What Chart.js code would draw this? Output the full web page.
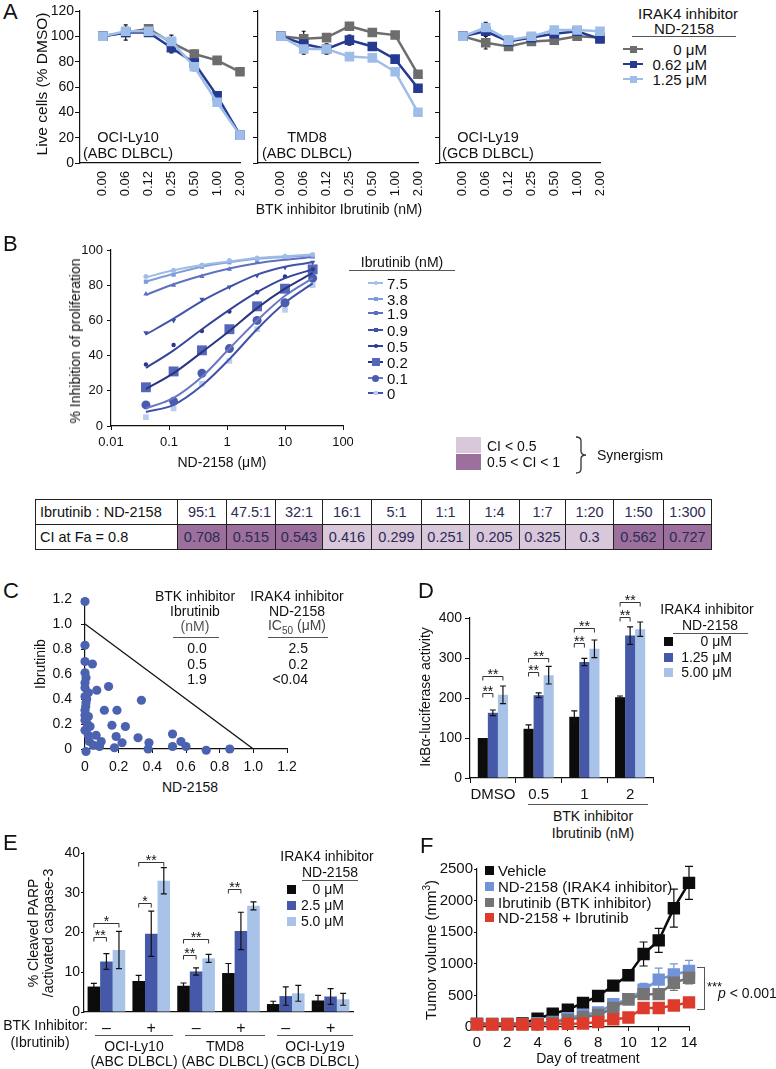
<!DOCTYPE html>
<html>
<head>
<meta charset="utf-8">
<script src="https://cdn.jsdelivr.net/npm/chart.js@4.4.1/dist/chart.umd.min.js"></script>
<style>
body { margin: 0; background: #fff; }
#page { position: relative; width: 776px; height: 1069px; overflow: hidden; font-family: "Liberation Sans", Arial, sans-serif; color: #111; }
.t { position: absolute; white-space: nowrap; line-height: 1; }
.hl { position: absolute; height: 0; border-top: 1.3px solid #555; }
.sq { position: absolute; }
table.ci { position: absolute; left: 35px; top: 499px; border-collapse: collapse; font-size: 14.5px; table-layout: fixed; }
table.ci td { border: 1.2px solid #222; height: 24px; padding: 0; text-align: center; color: #2b2b55; }
table.ci td.head { text-align: left; padding-left: 4px; color: #111; }
</style>
</head>
<body>
<div id="page"></div>
<script>
// ---- panel A: live cells (% DMSO)
var aDoses = ['0.00', '0.06', '0.12', '0.25', '0.50', '1.00', '2.00'];
var ly10Nd0 = [100, 103, 106, 95, 86, 81, 72];
var ly10Nd062 = [100, 103, 103, 91, 79, 53, 22];
var ly10Nd125 = [100, 104, 104, 96, 76, 48, 22];
var ly10Err0 = [0, 6, 2, 6, 3, 2, 1];
var ly10Err062 = [0, 3, 2, 4, 3, 2, 1];
var ly10Err125 = [0, 3, 2, 3, 3, 2, 1];
var tmd8Nd0 = [100, 98, 99, 108, 103, 101, 70];
var tmd8Nd062 = [100, 94, 90, 97, 92, 82, 59];
var tmd8Nd125 = [100, 90, 90, 84, 83, 72, 40];
var tmd8Err0 = [0, 6, 2, 2, 3, 2, 2];
var tmd8Err062 = [0, 3, 4, 4, 2, 2, 2];
var tmd8Err125 = [0, 4, 2, 3, 2, 2, 2];
var ly19Nd0 = [100, 95, 92, 96, 97, 100, 99];
var ly19Nd062 = [100, 104, 96, 99, 102, 104, 98];
var ly19Nd125 = [100, 107, 97, 100, 105, 105, 104];
var ly19Err0 = [0, 5, 2, 2, 3, 2, 2];
var ly19Err062 = [0, 3, 4, 2, 2, 2, 2];
var ly19Err125 = [0, 4, 2, 2, 2, 2, 2];
var aLegend = ['0 &mu;M', '0.62 &mu;M', '1.25 &mu;M'];

// ---- panel B: inhibition of proliferation
var bConc = [0.04, 0.12, 0.37, 1.1, 3.3, 10, 30];
var bTicks = [0.01, 0.1, 1, 10, 100];
var bLevels = ['7.5', '3.8', '1.9', '0.9', '0.5', '0.2', '0.1', '0'];
var bPts75 = [85, 88.5, 91.5, 94, 95.5, 96.5, 97.5];
var bPts38 = [82, 86, 90.5, 93, 94.5, 96, 97];
var bPts19 = [75, 80, 85, 89, 93, 95, 96];
var bPts09 = [53, 60, 72, 79, 85.5, 90, 93];
var bPts05 = [35, 46, 54, 65, 76, 85, 89];
var bPts02 = [22, 31, 43, 55, 68, 78, 89];
var bPts01 = [12, 14, 30, 44, 60, 70, 84];
var bPts00 = [5, 10, 24, 37, 55, 66, 80];
var bFit75 = [84.5, 88.5, 91.5, 93.5, 95.5, 96.5, 97.5];
var bFit38 = [82, 86.5, 90.5, 93, 95, 96, 97];
var bFit19 = [74.5, 80.5, 85.5, 89.5, 92.5, 94.5, 96];
var bFit09 = [52, 61, 71, 79, 86, 90.5, 93];
var bFit05 = [33, 43, 55, 66, 76, 84, 89];
var bFit02 = [21, 30, 42, 54, 67, 78, 87];
var bFit01 = [10, 16, 28, 44, 60, 74, 84];
var bFit00 = [8, 12, 23, 38, 55, 70, 81];

// ---- CI table
var ciRatios = ['95:1', '47.5:1', '32:1', '16:1', '5:1', '1:1', '1:4', '1:7', '1:20', '1:50', '1:300'];
var ciValues = ['0.708', '0.515', '0.543', '0.416', '0.299', '0.251', '0.205', '0.325', '0.3', '0.562', '0.727'];

// ---- panel C: isobologram
var cX = [0, 0, 0, 0.044, 0, 0.006, 0, 0, 0.02, 0.07, 0.14, 0, 0.006, 0.335, 0.115, 0.19, 0, 0.02, 0, 0.03,
          0.16, 0.24, 0, 0.02, 0.066, 0.185, 0.315, 0.096, 0.026, 0.05, 0.086, 0.175, 0.22, 0.38, 0.375, 0.52,
          0.52, 0.57, 0.6, 0.72, 0.86, 0.006, 0.014, 0, 0.01, 0.004];
var cY = [1.18, 0.83, 0.70, 0.68, 0.61, 0.57, 0.53, 0.49, 0.45, 0.47, 0.50, 0.42, 0.37, 0.39, 0.31, 0.31, 0.27, 0.26, 0.23, 0.18,
          0.19, 0.18, 0.15, 0.11, 0.11, 0.10, 0.09, 0.06, 0.06, 0.03, 0.02, 0.01, 0.05, 0.05, 0.0, 0.12,
          0.02, 0.06, 0.02, -0.01, 0.0, -0.02, 0.20, 0.31, 0.40, 0.34];
var cLineX = [0, 1];
var cLineY = [1, 0];

// ---- panel D: IkBa-luciferase
var dGroups = ['DMSO', '0.5', '1', '2'];
var dNd0 = [100, 123, 153, 202];
var dNd125 = [163, 207, 290, 356];
var dNd500 = [208, 257, 323, 372];
var dErr0 = [0, 10, 15, 3];
var dErr125 = [7, 6, 9, 22];
var dErr500 = [22, 22, 22, 18];
var dLegend = ['0 &mu;M', '1.25 &mu;M', '5.00 &mu;M'];

// ---- panel E: cleaved PARP
var eGroups = ['\u2013', '+', '\u2013', '+', '\u2013', '+'];
var eNd0 = [6.4, 7.8, 6.6, 9.8, 2.0, 2.9];
var eNd25 = [12.7, 19.7, 10.2, 20.4, 4.0, 3.9];
var eNd50 = [15.6, 33.0, 13.5, 26.7, 4.7, 3.2];
var eErr0 = [0.8, 1.4, 0.7, 2.4, 0.7, 1.3];
var eErr25 = [2.0, 5.7, 0.9, 4.7, 2.3, 2.0];
var eErr50 = [4.7, 3.3, 1.0, 1.0, 2.0, 1.5];
var eLegend = ['0 &mu;M', '2.5 &mu;M', '5.0 &mu;M'];

// ---- panel F: tumor volume
var fDays = [0, 1, 2, 3, 4, 5, 6, 7, 8, 9, 10, 11, 12, 13, 14];
var fVehicle = [50, 50, 50, 55, 130, 210, 275, 380, 490, 655, 820, 1155, 1370, 1880, 2280];
var fNd2158 = [50, 45, 45, 45, 60, 80, 140, 195, 230, 360, 440, 590, 750, 830, 885];
var fIbrutinib = [50, 45, 45, 45, 50, 70, 110, 160, 190, 300, 440, 520, 520, 700, 780];
var fCombo = [40, 40, 40, 40, 40, 45, 50, 55, 80, 120, 150, 300, 300, 340, 390];
var fErrVehicle = [15, 15, 15, 15, 20, 30, 30, 40, 40, 50, 70, 190, 190, 300, 260];
var fErrNd2158 = [10, 10, 10, 10, 10, 20, 20, 30, 40, 60, 80, 100, 180, 170, 170];
var fErrIbrutinib = [10, 10, 10, 10, 10, 20, 20, 30, 30, 60, 70, 70, 60, 120, 100];
var fErrCombo = [10, 10, 10, 10, 10, 10, 15, 20, 20, 30, 30, 40, 40, 40, 40];
var fLegend = ['Vehicle', 'ND-2158 (IRAK4 inhibitor)', 'Ibrutinib (BTK inhibitor)', 'ND-2158 + Ibrutinib'];

var FONT = '"Liberation Sans", Arial, sans-serif';
var page = document.getElementById('page');

Chart.defaults.font.family = FONT;
Chart.defaults.color = '#111';
Chart.defaults.events = [];
Chart.defaults.plugins.legend.display = false;
Chart.defaults.plugins.tooltip.enabled = false;

// error bars, read from dataset.errors
function drawErrors(chart) {
    var ctx = chart.ctx, ys = chart.scales.y;
    chart.data.datasets.forEach(function(ds, di) {
        if (!ds.errors) return;
        var meta = chart.getDatasetMeta(di);
        ctx.save();
        ctx.strokeStyle = ds.errorColor || '#111';
        ctx.lineWidth = 1.2;
        meta.data.forEach(function(el, i) {
            var e = ds.errors[i];
            if (!e) return;
            var v = typeof ds.data[i] === 'object' ? ds.data[i].y : ds.data[i];
            var top = ys.getPixelForValue(v + e), bot = ys.getPixelForValue(v - e);
            var cap = ds.errorCap || 3;
            ctx.beginPath();
            ctx.moveTo(el.x, top); ctx.lineTo(el.x, bot);
            ctx.moveTo(el.x - cap, top); ctx.lineTo(el.x + cap, top);
            ctx.moveTo(el.x - cap, bot); ctx.lineTo(el.x + cap, bot);
            ctx.stroke();
        });
        ctx.restore();
    });
}

Chart.register({
    id: 'errorBars',
    beforeDatasetsDraw: function(chart, args, opts) { if (!opts.after) drawErrors(chart); },
    afterDatasetsDraw: function(chart, args, opts) { if (opts.after) drawErrors(chart); }
});

// significance brackets between bars of one category
function bracketPlugin(items) {
    return {
        id: 'brackets',
        afterDatasetsDraw: function(chart) {
            var ctx = chart.ctx, ys = chart.scales.y;
            ctx.save();
            ctx.strokeStyle = '#333';
            ctx.fillStyle = '#111';
            ctx.lineWidth = 1;
            ctx.font = '14px ' + FONT;
            ctx.textAlign = 'center';
            ctx.textBaseline = 'alphabetic';
            items.forEach(function(b) {
                var x0 = chart.getDatasetMeta(b[1]).data[b[0]].x;
                var x1 = chart.getDatasetMeta(b[2]).data[b[0]].x;
                var y = Math.round(ys.getPixelForValue(b[3])) + 0.5;
                ctx.beginPath();
                ctx.moveTo(x0, y + 4); ctx.lineTo(x0, y); ctx.lineTo(x1, y); ctx.lineTo(x1, y + 4);
                ctx.stroke();
                ctx.fillText(b[4], (x0 + x1) / 2, y + 2);
            });
            ctx.restore();
        }
    };
}

// place a chart so that its chart area is exactly area = [l, t, r, b]
function makeChart(area, m, config) {
    var w = area[2] - area[0] + m[0] + m[2];
    var h = area[3] - area[1] + m[1] + m[3];
    var div = document.createElement('div');
    div.style.position = 'absolute';
    div.style.left = (area[0] - m[0]) + 'px';
    div.style.top = (area[1] - m[1]) + 'px';
    var c = document.createElement('canvas');
    c.width = w; c.height = h;
    c.style.width = w + 'px'; c.style.height = h + 'px';
    div.appendChild(c);
    page.appendChild(div);
    var o = config.options;
    o.responsive = false;
    o.animation = false;
    o.devicePixelRatio = 1;
    o.layout = {padding: {left: 0, top: m[1], right: m[2], bottom: 0}};
    o.scales.x.afterFit = function(s) { s.height = m[3]; s.paddingLeft = 0; s.paddingRight = 0; };
    o.scales.y.afterFit = function(s) { s.width = m[0]; s.paddingTop = 0; s.paddingBottom = 0; };
    return new Chart(c, config);
}

function axis(tickLen, pad, size, extra) {
    var a = {
        grid: {drawOnChartArea: false, drawTicks: tickLen > 0, tickLength: tickLen, color: '#111', lineWidth: 1},
        border: {display: true, color: '#111', width: 1.2},
        ticks: {color: '#111', font: {size: size}, padding: pad, maxRotation: 0, autoSkip: false}
    };
    for (var k in extra) {
        if (k === 'ticks') { for (var j in extra.ticks) a.ticks[j] = extra.ticks[j]; }
        else a[k] = extra[k];
    }
    return a;
}

function plain(v) { return String(v); }

function txt(s, x, y, opt) {
    opt = opt || {};
    var d = document.createElement('div');
    d.className = 't';
    d.innerHTML = s;
    d.style.fontSize = (opt.size || 14) + 'px';
    if (opt.color) d.style.color = opt.color;
    if (opt.lh) { d.style.lineHeight = opt.lh; d.style.textAlign = 'center'; }
    d.style.left = x + 'px';
    d.style.top = y + 'px';
    var tx = opt.align === 'left' ? '0' : (opt.align === 'right' ? '-100%' : '-50%');
    d.style.transform = opt.rot ? 'translate(-50%,-50%) rotate(-90deg)' : 'translate(' + tx + ',-50%)';
    page.appendChild(d);
    return d;
}

function hline(x0, x1, y) {
    var d = document.createElement('div');
    d.className = 'hl';
    d.style.left = x0 + 'px'; d.style.top = y + 'px'; d.style.width = (x1 - x0) + 'px';
    page.appendChild(d);
}

function square(x, y, s, color, round, h) {
    var d = document.createElement('div');
    d.className = 'sq';
    h = h || s;
    d.style.left = (x - s / 2) + 'px'; d.style.top = (y - h / 2) + 'px';
    d.style.width = s + 'px'; d.style.height = h + 'px';
    d.style.background = color;
    if (round) d.style.borderRadius = '50%';
    page.appendChild(d);
    return d;
}

function legendLine(x0, x1, y, color, lw, dashed) {
    var d = document.createElement('div');
    d.style.position = 'absolute';
    d.style.left = x0 + 'px'; d.style.top = (y - lw / 2) + 'px';
    d.style.width = (x1 - x0) + 'px'; d.style.height = '0';
    d.style.borderTop = lw + 'px ' + (dashed ? 'dashed ' : 'solid ') + color;
    page.appendChild(d);
}

// ================= A =================
var aGray = '#6d6d6d', aDark = '#253a91', aLight = '#9ebde8';

function aSeries(vals, errs, color) {
    return {
        data: vals.map(function(v, i) { return {x: i, y: v}; }),
        errors: errs, errorCap: 2,
        showLine: true, borderColor: color, backgroundColor: color, borderWidth: 2.5,
        pointStyle: 'rect', pointRadius: 5, clip: false
    };
}

function panelA(area, s0, s1, s2, e0, e1, e2, showLabels) {
    makeChart(area, [showLabels ? 45 : 10, 10, 10, 45], {
        type: 'scatter',
        data: {datasets: [aSeries(s2, e2, aLight), aSeries(s1, e1, aDark), aSeries(s0, e0, aGray)]},
        options: {
            scales: {
                x: axis(0, 8, 13, {min: -1, max: 6, ticks: {stepSize: 1, minRotation: 90, maxRotation: 90,
                    callback: function(v) { return v >= 0 ? aDoses[v] : ''; }}}),
                y: axis(5, 1, 14, {min: 0, max: 120, ticks: {stepSize: 20, display: showLabels}})
            }
        }
    });
}

panelA([80, 11, 240, 163], ly10Nd0, ly10Nd062, ly10Nd125, ly10Err0, ly10Err062, ly10Err125, true);
panelA([258, 11, 418, 163], tmd8Nd0, tmd8Nd062, tmd8Nd125, tmd8Err0, tmd8Err062, tmd8Err125, false);
panelA([440, 11, 600, 163], ly19Nd0, ly19Nd062, ly19Nd125, ly19Err0, ly19Err062, ly19Err125, false);

txt('A', 3, 12, {size: 22, align: 'left'});
txt('Live cells (% DMSO)', 42, 84, {size: 15.5, rot: true});
txt('BTK inhibitor Ibrutinib (nM)', 339, 209, {size: 14});
txt('OCI-Ly10', 128, 137, {size: 14.5});
txt('(ABC DLBCL)', 128, 153, {size: 14.5});
txt('TMD8', 307, 137, {size: 14.5});
txt('(ABC DLBCL)', 307, 153, {size: 14.5});
txt('OCI-Ly19', 488, 137, {size: 14.5});
txt('(GCB DLBCL)', 488, 153, {size: 14.5});
txt('IRAK4 inhibitor', 688, 13, {size: 15});
txt('ND-2158', 684, 28, {size: 15});
hline(632, 736, 36);
[aGray, aDark, aLight].forEach(function(c, i) {
    var y = [49, 64, 79][i];
    legendLine(623, 643, y, c, 2.5);
    square(633, y, 7, c);
    txt(aLegend[i], 707, y, {size: 15, align: 'right'});
});

// ================= B =================
var bColors = ['#a3c0ea', '#7d9cdc', '#5c70c2', '#3e50a8', '#28378a', '#5567b8', '#4a5bb0', '#b9cdee'];
var bFitColors = ['#9fbce8', '#7f9cdb', '#5f70c0', '#4153a9', '#34449a', '#27367f', '#6a77c2', '#3f51a8'];
var bStyles = ['circle', 'rect', 'triangle', 'triangle', 'circle', 'rect', 'circle', 'rect'];
var bRadius = [2.5, 3, 3, 3, 2.2, 7, 4.5, 4];
var bPoints = [bPts75, bPts38, bPts19, bPts09, bPts05, bPts02, bPts01, bPts00];
var bFits = [bFit75, bFit38, bFit19, bFit09, bFit05, bFit02, bFit01, bFit00];

var bDatasets = [];
bLevels.forEach(function(lv, k) {
    bDatasets.push({
        data: bConc.map(function(c, i) { return {x: c, y: bFits[k][i]}; }),
        showLine: true, pointRadius: 0, borderColor: bFitColors[k], borderWidth: 2,
        cubicInterpolationMode: 'monotone', clip: false
    });
    bDatasets.push({
        data: bConc.map(function(c, i) { return {x: c, y: bPoints[k][i]}; }),
        showLine: false, pointStyle: bStyles[k], rotation: k === 3 ? 180 : 0, pointRadius: bRadius[k],
        backgroundColor: bColors[k], borderColor: bColors[k], borderWidth: 0, clip: false
    });
});

makeChart([111, 250, 343, 426], [40, 10, 10, 30], {
    type: 'scatter',
    data: {datasets: bDatasets},
    options: {
        scales: {
            x: axis(4, 5, 13, {type: 'logarithmic', min: 0.01, max: 100,
                afterBuildTicks: function(s) { s.ticks = bTicks.map(function(v) { return {value: v}; }); },
                ticks: {callback: plain}}),
            y: axis(4, 4, 13, {min: 0, max: 100, ticks: {stepSize: 20}})
        }
    }
});

txt('B', 3, 244, {size: 22, align: 'left'});
txt('% Inhibition of proliferation', 75, 341, {size: 14, rot: true});
txt('ND-2158 (&mu;M)', 222, 462, {size: 14});
txt('Ibrutinib (nM)', 402, 262, {size: 14});
hline(349, 455, 270);
bLevels.forEach(function(lv, k) {
    var y = [283, 299, 313, 330, 346, 362, 378, 393][k];
    legendLine(368, 383, y, bFitColors[k], 2, k === 7);
    square(375.5, y, k === 5 ? 8 : (k === 6 ? 7 : 4), bColors[k], bStyles[k] === 'circle');
    txt(lv, 387, y, {size: 15, align: 'left'});
});

// CI legend
square(468.5, 445, 25, '#d9c7da', false, 16);
square(468.5, 462, 25, '#9c6f9c', false, 16);
txt('CI &lt; 0.5', 487, 446, {size: 14, align: 'left'});
txt('0.5 &lt; CI &lt; 1', 487, 462, {size: 14, align: 'left'});
var brace = document.createElement('div');
brace.style.position = 'absolute';
brace.style.left = '574px'; brace.style.top = '436px';
brace.innerHTML = '<svg width="16" height="38"><path d="M2 1 Q7 1 7 5 L7 15 Q7 19 12 19 Q7 19 7 23 L7 33 Q7 37 2 37" fill="none" stroke="#333" stroke-width="1.3"/></svg>';
page.appendChild(brace);
txt('Synergism', 597, 455, {size: 14, align: 'left'});

// CI table
var tbl = document.createElement('table');
tbl.className = 'ci';
var colW = [141, 48, 48, 46, 48, 49, 47, 49, 45, 47, 49, 47];
var r1 = '<tr><td class="head" style="width:' + (colW[0] - 4) + 'px">Ibrutinib : ND-2158</td>';
var r2 = '<tr><td class="head">CI at Fa = 0.8</td>';
ciRatios.forEach(function(r, i) {
    r1 += '<td style="width:' + colW[i + 1] + 'px">' + r + '</td>';
    var bg = parseFloat(ciValues[i]) < 0.5 ? '#d9c7da' : '#9c6f9c';
    r2 += '<td style="background:' + bg + '">' + ciValues[i] + '</td>';
});
tbl.innerHTML = r1 + '</tr>' + r2 + '</tr>';
page.appendChild(tbl);

// ================= C =================
function oneDec(v) { return v === 0 ? '0' : v.toFixed(1); }

makeChart([85, 599, 287, 749], [40, 10, 10, 30], {
    type: 'scatter',
    data: {datasets: [
        {data: cLineX.map(function(x, i) { return {x: x, y: cLineY[i]}; }), showLine: true, pointRadius: 0,
         borderColor: '#111', borderWidth: 1.3},
        {data: cX.map(function(x, i) { return {x: x, y: cY[i]}; }), pointRadius: 4.6,
         backgroundColor: '#4b62b0', borderWidth: 0, clip: false}
    ]},
    options: {
        scales: {
            x: axis(4, 6, 14, {min: 0, max: 1.2, ticks: {stepSize: 0.2, callback: oneDec}}),
            y: axis(4, 9, 14, {min: 0, max: 1.2, ticks: {stepSize: 0.2, callback: oneDec}})
        }
    }
});

txt('C', 3, 591, {size: 22, align: 'left'});
txt('Ibrutinib', 40, 664, {size: 14, rot: true});
txt('ND-2158', 190, 787, {size: 14});
txt('BTK inhibitor', 195, 596, {size: 14});
txt('Ibrutinib', 195, 611, {size: 14});
txt('(nM)', 195, 626, {size: 14, color: '#555'});
hline(173, 219, 637);
txt('0.0', 197, 648, {size: 14});
txt('0.5', 197, 664, {size: 14});
txt('1.9', 197, 679, {size: 14});
txt('IRAK4 inhibitor', 297, 596, {size: 14});
txt('ND-2158', 297, 611, {size: 14});
txt('IC<sub style="font-size:10px">50</sub> (&mu;M)', 297, 627, {size: 14, color: '#444'});
hline(268, 328, 637);
txt('2.5', 308, 648, {size: 14, align: 'right'});
txt('0.2', 308, 664, {size: 14, align: 'right'});
txt('&lt;0.04', 308, 679, {size: 14, align: 'right'});

// ================= D =================
var cBlack = '#0c0c0c', cBlue = '#4659a8', cLight = '#a8c2e8';

function barDs(vals, errs, color, pct) {
    return {data: vals, errors: errs, errorCap: 3, backgroundColor: color, borderWidth: 0,
            categoryPercentage: pct, barPercentage: 1.0};
}

makeChart([470, 618, 653, 778], [45, 40, 10, 25], {
    type: 'bar',
    data: {labels: dGroups, datasets: [barDs(dNd0, dErr0, cBlack, 0.66), barDs(dNd125, dErr125, cBlue, 0.66),
                                       barDs(dNd500, dErr500, cLight, 0.66)]},
    options: {
        plugins: {errorBars: {after: true}},
        scales: {
            x: axis(5, 3, 15, {}),
            y: axis(5, 3, 14, {min: 0, max: 400, ticks: {stepSize: 100}})
        }
    },
    plugins: [bracketPlugin([
        [0, 0, 1, 212, '**'], [0, 0, 2, 255, '**'],
        [1, 0, 1, 265, '**'], [1, 0, 2, 300, '**'],
        [2, 0, 1, 337, '**'], [2, 0, 2, 375, '**'],
        [3, 0, 1, 402, '**'], [3, 0, 2, 440, '**']
    ])]
});

txt('D', 418, 591, {size: 22, align: 'left'});
txt('I&kappa;B&alpha;-luciferase activity', 425, 697, {size: 14, rot: true});
hline(528, 648, 804);
txt('BTK inhibitor', 593, 816, {size: 14});
txt('Ibrutinib (nM)', 593, 833, {size: 14});
txt('IRAK4 inhibitor', 707, 609, {size: 14});
txt('ND-2158', 710, 625, {size: 14});
hline(673, 748, 633);
[cBlack, cBlue, cLight].forEach(function(c, i) {
    var y = [641, 657, 672][i];
    square(668, y, 9, c);
    txt(dLegend[i], 732, y, {size: 14, align: 'right'});
});

// ================= E =================
makeChart([84, 853, 353, 1012], [35, 15, 5, 25], {
    type: 'bar',
    data: {labels: eGroups, datasets: [barDs(eNd0, eErr0, cBlack, 0.84), barDs(eNd25, eErr25, cBlue, 0.84),
                                       barDs(eNd50, eErr50, cLight, 0.84)]},
    options: {
        plugins: {errorBars: {after: true}},
        scales: {
            x: axis(0, 7, 16, {}),
            y: axis(3, 1, 14, {min: 0, max: 40, ticks: {stepSize: 10}})
        }
    },
    plugins: [bracketPlugin([
        [0, 0, 1, 18.9, '**'], [0, 0, 2, 22.4, '*'],
        [1, 0, 1, 27.4, '*'], [1, 0, 2, 37.7, '**'],
        [2, 0, 1, 14.3, '**'], [2, 0, 2, 18.4, '**'],
        [3, 0, 1, 31, '**']
    ])]
});

txt('E', 3, 843, {size: 22, align: 'left'});
txt('% Cleaved PARP<br>/activated caspase-3', 41, 933, {size: 14, rot: true, lh: '1.05'});
txt('IRAK4 inhibitor', 327, 856, {size: 14});
txt('ND-2158', 330, 872, {size: 14});
hline(302, 358, 880);
[cBlack, cBlue, cLight].forEach(function(c, i) {
    var y = [889, 905, 921][i];
    square(291, y, 9, c);
    txt(eLegend[i], 344, y, {size: 14, align: 'right'});
});
txt('BTK Inhibitor:', 88, 1025, {size: 14, align: 'right'});
txt('(Ibrutinib)', 40, 1042, {size: 14});
hline(95, 173, 1035);
hline(185, 265, 1035);
hline(277, 353, 1035);
txt('OCI-Ly10', 134, 1046, {size: 14});
txt('(ABC DLBCL)', 134, 1061, {size: 14});
txt('TMD8', 225, 1046, {size: 14});
txt('(ABC DLBCL)', 225, 1061, {size: 14});
txt('OCI-Ly19', 315, 1046, {size: 14});
txt('(GCB DLBCL)', 315, 1061, {size: 14});

// ================= F =================
var fColors = ['#0c0c0c', '#7393d8', '#747474', '#dd3b2c'];
var fSets = [fVehicle, fNd2158, fIbrutinib, fCombo];
var fErrs = [fErrVehicle, fErrNd2158, fErrIbrutinib, fErrCombo];
var fOrder = [3, 2, 1, 0];

makeChart([477, 869, 689, 1027], [50, 10, 10, 25], {
    type: 'scatter',
    data: {datasets: fSets.map(function(vals, k) {
        return {
            data: fDays.map(function(d, i) { return {x: d, y: vals[i]}; }),
            errors: fErrs[k], errorColor: fColors[k], errorCap: 4, order: fOrder[k],
            showLine: true, borderColor: fColors[k], backgroundColor: fColors[k], borderWidth: 2.5,
            pointStyle: 'rect', pointRadius: 7, clip: false
        };
    })},
    options: {
        scales: {
            x: axis(4, 3, 15, {min: 0, max: 14, ticks: {stepSize: 2, callback: plain}}),
            y: axis(3, 1, 15, {min: 0, max: 2500, ticks: {stepSize: 500, callback: plain}})
        }
    }
});

txt('F', 420, 846, {size: 22, align: 'left'});
txt('Tumor volume (mm<sup style="font-size:10px">3</sup>)', 430, 950, {size: 15, rot: true});
txt('Day of treatment', 588, 1058, {size: 14});
fColors.forEach(function(c, i) {
    var y = [870, 886, 902, 917][i];
    square(489, y, 9, c);
    txt(fLegend[i], 498, y, {size: 15, align: 'left'});
});
var br = document.createElement('div');
br.style.cssText = 'position:absolute;left:697px;top:967px;width:7px;height:41px;border:1px solid #555;border-left:none;';
page.appendChild(br);
txt('***', 707, 986, {size: 13, align: 'left'});
txt('<i>p</i> &lt; 0.001', 718, 993, {size: 14, align: 'left'});
</script>
</body>
</html>
